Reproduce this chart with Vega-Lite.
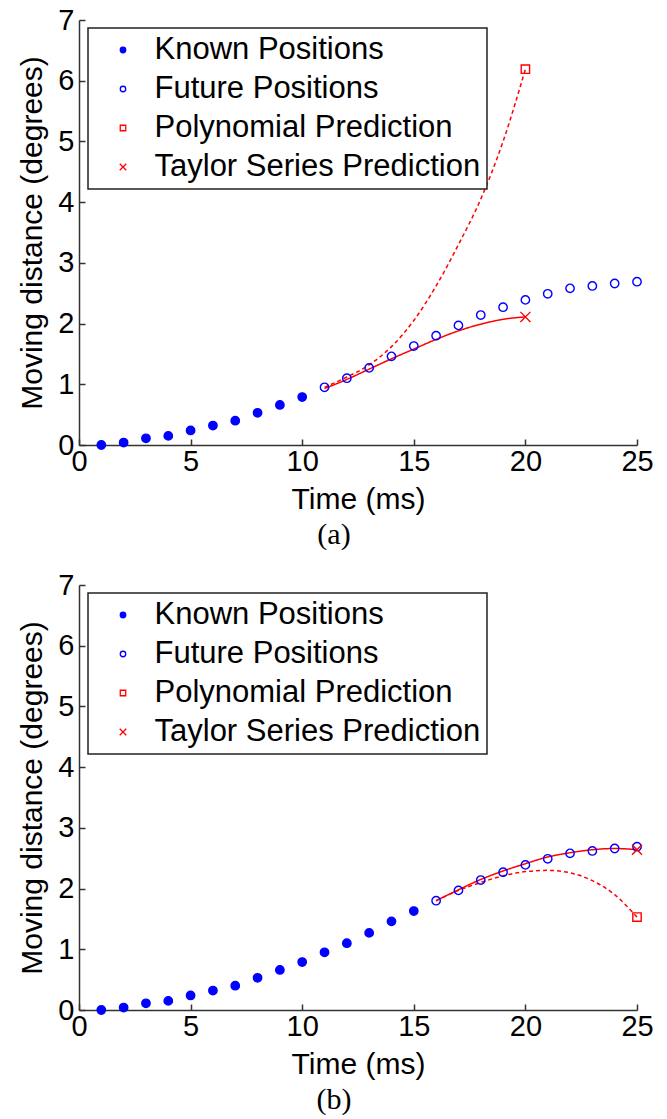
{
  "$schema": "https://vega.github.io/schema/vega-lite/v6.json",
  "background": "white",
  "padding": {"left": 17, "top": 6, "right": 4, "bottom": 0},
  "config": {
    "view": {"stroke": null},
    "font": "Liberation Sans",
    "axis": {
      "grid": false,
      "domainColor": "#333333",
      "domainWidth": 1.5,
      "tickColor": "#333333",
      "tickWidth": 1.5,
      "tickSize": -6,
      "labelFont": "Liberation Sans",
      "labelFontSize": 29,
      "labelColor": "black",
      "labelFlush": false,
      "labelOverlap": false,
      "titleFont": "Liberation Sans",
      "titleFontSize": 30,
      "titleFontWeight": "normal",
      "titleColor": "black"
    },
    "legend": {
      "labelFont": "Liberation Sans",
      "labelFontSize": 31,
      "labelColor": "black",
      "labelLimit": 500,
      "symbolSize": 30,
      "symbolStrokeWidth": 1.3,
      "rowPadding": 7,
      "padding": 6.5,
      "symbolOffset": 13,
      "labelOffset": 16,
      "strokeColor": "#222222",
      "fillColor": "white",
      "strokeWidth": 1.5
    },
    "title": {
      "font": "Liberation Serif",
      "fontSize": 30,
      "fontWeight": "normal",
      "color": "black",
      "orient": "bottom",
      "anchor": "middle"
    }
  },
  "datasets": {
    "points": [
      {"panel": "a", "series": "Known Positions", "t": 1, "v": 0.00},
      {"panel": "a", "series": "Known Positions", "t": 2, "v": 0.04},
      {"panel": "a", "series": "Known Positions", "t": 3, "v": 0.11},
      {"panel": "a", "series": "Known Positions", "t": 4, "v": 0.15},
      {"panel": "a", "series": "Known Positions", "t": 5, "v": 0.24},
      {"panel": "a", "series": "Known Positions", "t": 6, "v": 0.32},
      {"panel": "a", "series": "Known Positions", "t": 7, "v": 0.40},
      {"panel": "a", "series": "Known Positions", "t": 8, "v": 0.53},
      {"panel": "a", "series": "Known Positions", "t": 9, "v": 0.66},
      {"panel": "a", "series": "Known Positions", "t": 10, "v": 0.79},
      {"panel": "a", "series": "Future Positions", "t": 11, "v": 0.95},
      {"panel": "a", "series": "Future Positions", "t": 12, "v": 1.10},
      {"panel": "a", "series": "Future Positions", "t": 13, "v": 1.27},
      {"panel": "a", "series": "Future Positions", "t": 14, "v": 1.46},
      {"panel": "a", "series": "Future Positions", "t": 15, "v": 1.63},
      {"panel": "a", "series": "Future Positions", "t": 16, "v": 1.80},
      {"panel": "a", "series": "Future Positions", "t": 17, "v": 1.97},
      {"panel": "a", "series": "Future Positions", "t": 18, "v": 2.14},
      {"panel": "a", "series": "Future Positions", "t": 19, "v": 2.27},
      {"panel": "a", "series": "Future Positions", "t": 20, "v": 2.39},
      {"panel": "a", "series": "Future Positions", "t": 21, "v": 2.49},
      {"panel": "a", "series": "Future Positions", "t": 22, "v": 2.58},
      {"panel": "a", "series": "Future Positions", "t": 23, "v": 2.62},
      {"panel": "a", "series": "Future Positions", "t": 24, "v": 2.66},
      {"panel": "a", "series": "Future Positions", "t": 25, "v": 2.69},
      {"panel": "a", "series": "Polynomial Prediction", "t": 20, "v": 6.19},
      {"panel": "a", "series": "Taylor Series Prediction", "t": 20, "v": 2.11},
      {"panel": "b", "series": "Known Positions", "t": 1, "v": 0.00},
      {"panel": "b", "series": "Known Positions", "t": 2, "v": 0.04},
      {"panel": "b", "series": "Known Positions", "t": 3, "v": 0.11},
      {"panel": "b", "series": "Known Positions", "t": 4, "v": 0.15},
      {"panel": "b", "series": "Known Positions", "t": 5, "v": 0.24},
      {"panel": "b", "series": "Known Positions", "t": 6, "v": 0.32},
      {"panel": "b", "series": "Known Positions", "t": 7, "v": 0.40},
      {"panel": "b", "series": "Known Positions", "t": 8, "v": 0.53},
      {"panel": "b", "series": "Known Positions", "t": 9, "v": 0.66},
      {"panel": "b", "series": "Known Positions", "t": 10, "v": 0.79},
      {"panel": "b", "series": "Known Positions", "t": 11, "v": 0.95},
      {"panel": "b", "series": "Known Positions", "t": 12, "v": 1.10},
      {"panel": "b", "series": "Known Positions", "t": 13, "v": 1.27},
      {"panel": "b", "series": "Known Positions", "t": 14, "v": 1.46},
      {"panel": "b", "series": "Known Positions", "t": 15, "v": 1.63},
      {"panel": "b", "series": "Future Positions", "t": 16, "v": 1.80},
      {"panel": "b", "series": "Future Positions", "t": 17, "v": 1.97},
      {"panel": "b", "series": "Future Positions", "t": 18, "v": 2.14},
      {"panel": "b", "series": "Future Positions", "t": 19, "v": 2.27},
      {"panel": "b", "series": "Future Positions", "t": 20, "v": 2.39},
      {"panel": "b", "series": "Future Positions", "t": 21, "v": 2.49},
      {"panel": "b", "series": "Future Positions", "t": 22, "v": 2.58},
      {"panel": "b", "series": "Future Positions", "t": 23, "v": 2.62},
      {"panel": "b", "series": "Future Positions", "t": 24, "v": 2.66},
      {"panel": "b", "series": "Future Positions", "t": 25, "v": 2.69},
      {"panel": "b", "series": "Polynomial Prediction", "t": 25, "v": 1.53},
      {"panel": "b", "series": "Taylor Series Prediction", "t": 25, "v": 2.64}
    ],
    "curves": [
      {"panel": "a", "series": "Polynomial Prediction", "t": 11, "v": 0.95},
      {"panel": "a", "series": "Polynomial Prediction", "t": 12, "v": 1.12},
      {"panel": "a", "series": "Polynomial Prediction", "t": 13, "v": 1.32},
      {"panel": "a", "series": "Polynomial Prediction", "t": 14, "v": 1.62},
      {"panel": "a", "series": "Polynomial Prediction", "t": 15, "v": 2.05},
      {"panel": "a", "series": "Polynomial Prediction", "t": 16, "v": 2.62},
      {"panel": "a", "series": "Polynomial Prediction", "t": 17, "v": 3.30},
      {"panel": "a", "series": "Polynomial Prediction", "t": 18, "v": 4.05},
      {"panel": "a", "series": "Polynomial Prediction", "t": 19, "v": 5.00},
      {"panel": "a", "series": "Polynomial Prediction", "t": 20, "v": 6.19},
      {"panel": "a", "series": "Taylor Series Prediction", "t": 11, "v": 0.93},
      {"panel": "a", "series": "Taylor Series Prediction", "t": 12, "v": 1.08},
      {"panel": "a", "series": "Taylor Series Prediction", "t": 13, "v": 1.25},
      {"panel": "a", "series": "Taylor Series Prediction", "t": 14, "v": 1.42},
      {"panel": "a", "series": "Taylor Series Prediction", "t": 15, "v": 1.58},
      {"panel": "a", "series": "Taylor Series Prediction", "t": 16, "v": 1.74},
      {"panel": "a", "series": "Taylor Series Prediction", "t": 17, "v": 1.88},
      {"panel": "a", "series": "Taylor Series Prediction", "t": 18, "v": 1.99},
      {"panel": "a", "series": "Taylor Series Prediction", "t": 19, "v": 2.07},
      {"panel": "a", "series": "Taylor Series Prediction", "t": 20, "v": 2.11},
      {"panel": "b", "series": "Polynomial Prediction", "t": 16, "v": 1.80},
      {"panel": "b", "series": "Polynomial Prediction", "t": 17, "v": 1.97},
      {"panel": "b", "series": "Polynomial Prediction", "t": 18, "v": 2.10},
      {"panel": "b", "series": "Polynomial Prediction", "t": 19, "v": 2.21},
      {"panel": "b", "series": "Polynomial Prediction", "t": 20, "v": 2.28},
      {"panel": "b", "series": "Polynomial Prediction", "t": 21, "v": 2.30},
      {"panel": "b", "series": "Polynomial Prediction", "t": 22, "v": 2.26},
      {"panel": "b", "series": "Polynomial Prediction", "t": 23, "v": 2.13},
      {"panel": "b", "series": "Polynomial Prediction", "t": 24, "v": 1.90},
      {"panel": "b", "series": "Polynomial Prediction", "t": 25, "v": 1.53},
      {"panel": "b", "series": "Taylor Series Prediction", "t": 16, "v": 1.80},
      {"panel": "b", "series": "Taylor Series Prediction", "t": 17, "v": 1.98},
      {"panel": "b", "series": "Taylor Series Prediction", "t": 18, "v": 2.15},
      {"panel": "b", "series": "Taylor Series Prediction", "t": 19, "v": 2.29},
      {"panel": "b", "series": "Taylor Series Prediction", "t": 20, "v": 2.41},
      {"panel": "b", "series": "Taylor Series Prediction", "t": 21, "v": 2.52},
      {"panel": "b", "series": "Taylor Series Prediction", "t": 22, "v": 2.59},
      {"panel": "b", "series": "Taylor Series Prediction", "t": 23, "v": 2.64},
      {"panel": "b", "series": "Taylor Series Prediction", "t": 24, "v": 2.66},
      {"panel": "b", "series": "Taylor Series Prediction", "t": 25, "v": 2.64}
    ]
  },
  "spacing": 21,
  "resolve": {
    "scale": {"shape": "independent", "stroke": "independent", "fill": "independent", "strokeDash": "independent"},
    "legend": {"shape": "independent", "stroke": "independent", "fill": "independent"}
  },
  "vconcat": [
    {
      "title": {"text": "(a)", "dx": -24, "offset": 6},
      "width": 558,
      "height": 425,
      "layer": [
        {
          "data": {"name": "curves"},
          "transform": [{"filter": "datum.panel == 'a'"}],
          "mark": {"type": "line", "interpolate": "monotone", "color": "#ff0000", "strokeWidth": 1.5},
          "encoding": {
            "x": {"field": "t", "type": "quantitative", "scale": {"domain": [0, 25], "nice": false}, "axis": {"values": [0, 5, 10, 15, 20, 25], "format": "d", "title": "Time (ms)", "titlePadding": 8, "labelPadding": 8}},
            "y": {"field": "v", "type": "quantitative", "scale": {"domain": [0, 7], "nice": false}, "axis": {"values": [0, 1, 2, 3, 4, 5, 6, 7], "format": "d", "title": "Moving distance (degrees)", "titlePadding": 10, "labelPadding": 11}},
            "strokeDash": {"field": "series", "type": "nominal", "scale": {"domain": ["Polynomial Prediction", "Taylor Series Prediction"], "range": [[4, 3], [1, 0]]}, "legend": null}
          }
        },
        {
          "data": {"name": "points"},
          "transform": [{"filter": "datum.panel == 'a'"}],
          "mark": {"type": "point", "size": 70, "strokeWidth": 1.4, "opacity": 1},
          "encoding": {
            "x": {"field": "t", "type": "quantitative"},
            "y": {"field": "v", "type": "quantitative"},
            "shape": {"field": "series", "type": "nominal", "scale": {"domain": ["Known Positions", "Future Positions", "Polynomial Prediction", "Taylor Series Prediction"], "range": ["circle", "circle", "square", "M-1.2,-1.2L1.2,1.2M-1.2,1.2L1.2,-1.2"]}, "legend": {"title": null, "orient": "none", "legendX": 9, "legendY": 8}},
            "stroke": {"field": "series", "type": "nominal", "scale": {"domain": ["Known Positions", "Future Positions", "Polynomial Prediction", "Taylor Series Prediction"], "range": ["#0000ff", "#0000ff", "#ff0000", "#ff0000"]}, "legend": {"title": null, "orient": "none", "legendX": 9, "legendY": 8}},
            "fill": {"field": "series", "type": "nominal", "scale": {"domain": ["Known Positions", "Future Positions", "Polynomial Prediction", "Taylor Series Prediction"], "range": ["#0000ff", "transparent", "transparent", "transparent"]}, "legend": {"title": null, "orient": "none", "legendX": 9, "legendY": 8}}
          }
        }
      ]
    },
    {
      "title": {"text": "(b)", "dx": -24, "offset": 6},
      "width": 558,
      "height": 425,
      "layer": [
        {
          "data": {"name": "curves"},
          "transform": [{"filter": "datum.panel == 'b'"}],
          "mark": {"type": "line", "interpolate": "monotone", "color": "#ff0000", "strokeWidth": 1.5},
          "encoding": {
            "x": {"field": "t", "type": "quantitative", "scale": {"domain": [0, 25], "nice": false}, "axis": {"values": [0, 5, 10, 15, 20, 25], "format": "d", "title": "Time (ms)", "titlePadding": 8, "labelPadding": 8}},
            "y": {"field": "v", "type": "quantitative", "scale": {"domain": [0, 7], "nice": false}, "axis": {"values": [0, 1, 2, 3, 4, 5, 6, 7], "format": "d", "title": "Moving distance (degrees)", "titlePadding": 10, "labelPadding": 11}},
            "strokeDash": {"field": "series", "type": "nominal", "scale": {"domain": ["Polynomial Prediction", "Taylor Series Prediction"], "range": [[4, 3], [1, 0]]}, "legend": null}
          }
        },
        {
          "data": {"name": "points"},
          "transform": [{"filter": "datum.panel == 'b'"}],
          "mark": {"type": "point", "size": 70, "strokeWidth": 1.4, "opacity": 1},
          "encoding": {
            "x": {"field": "t", "type": "quantitative"},
            "y": {"field": "v", "type": "quantitative"},
            "shape": {"field": "series", "type": "nominal", "scale": {"domain": ["Known Positions", "Future Positions", "Polynomial Prediction", "Taylor Series Prediction"], "range": ["circle", "circle", "square", "M-1.2,-1.2L1.2,1.2M-1.2,1.2L1.2,-1.2"]}, "legend": {"title": null, "orient": "none", "legendX": 9, "legendY": 8}},
            "stroke": {"field": "series", "type": "nominal", "scale": {"domain": ["Known Positions", "Future Positions", "Polynomial Prediction", "Taylor Series Prediction"], "range": ["#0000ff", "#0000ff", "#ff0000", "#ff0000"]}, "legend": {"title": null, "orient": "none", "legendX": 9, "legendY": 8}},
            "fill": {"field": "series", "type": "nominal", "scale": {"domain": ["Known Positions", "Future Positions", "Polynomial Prediction", "Taylor Series Prediction"], "range": ["#0000ff", "transparent", "transparent", "transparent"]}, "legend": {"title": null, "orient": "none", "legendX": 9, "legendY": 8}}
          }
        }
      ]
    }
  ]
}
